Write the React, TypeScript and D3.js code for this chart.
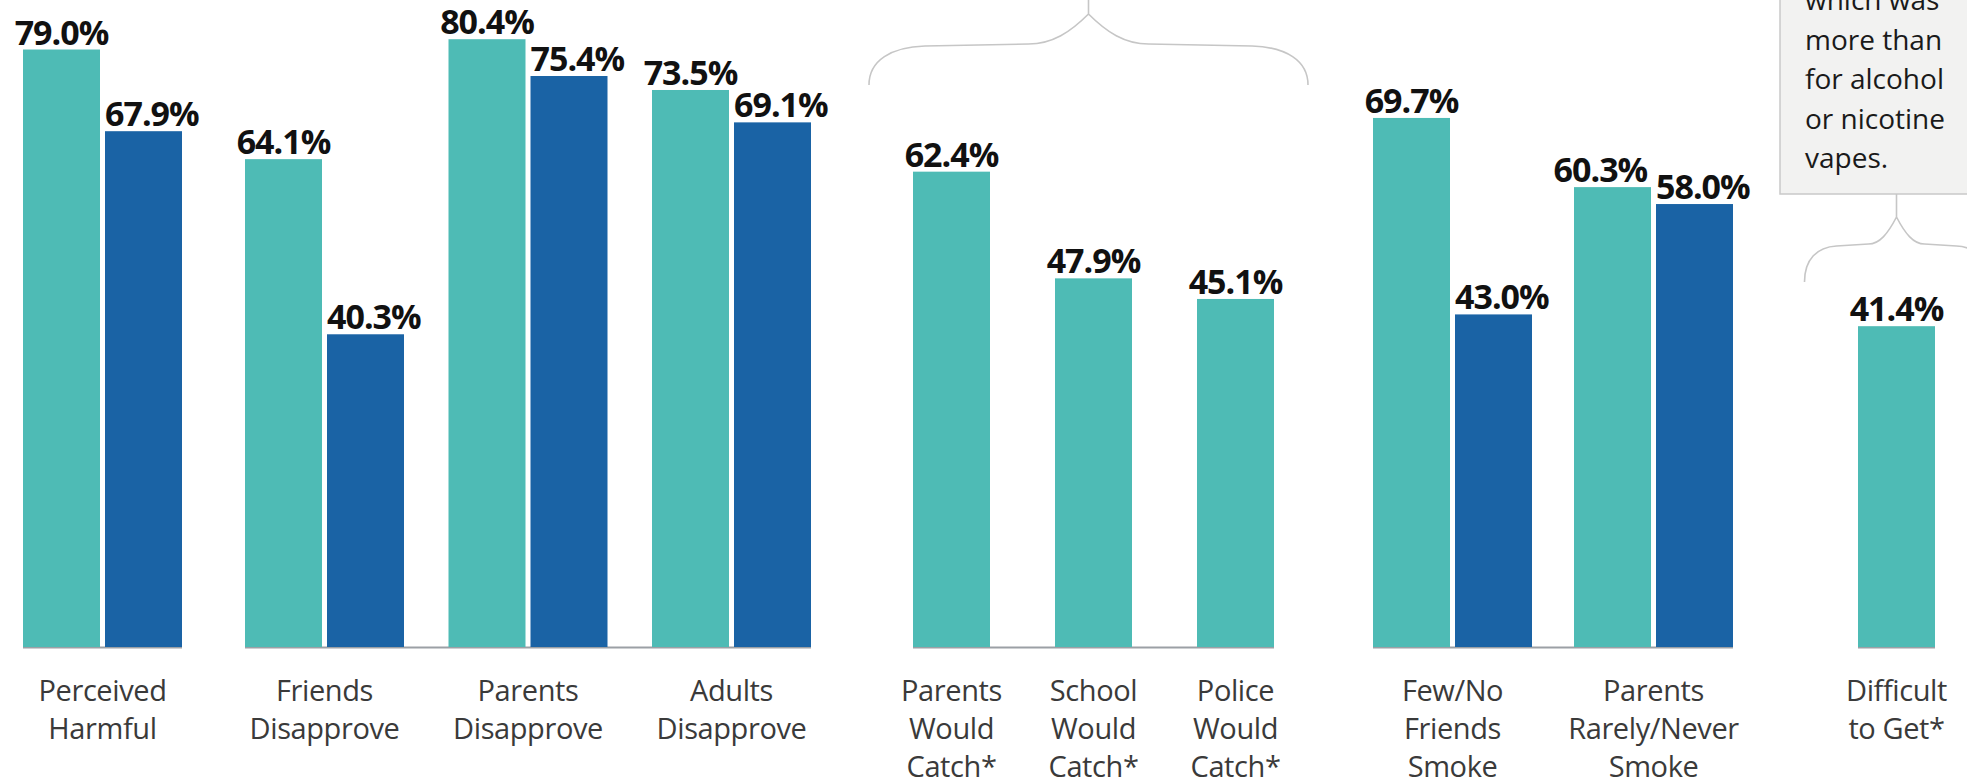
import React from "react";
import * as d3 from "d3";

// ---- data ----
const categories = [
  "Perceived Harmful",
  "Friends Disapprove",
  "Parents Disapprove",
  "Adults Disapprove",
  "Parents Would Catch*",
  "School Would Catch*",
  "Police Would Catch*",
  "Few/No Friends Smoke",
  "Parents Rarely/Never Smoke",
  "Difficult to Get*",
];
const categoryLines = [
  ["Perceived", "Harmful"],
  ["Friends", "Disapprove"],
  ["Parents", "Disapprove"],
  ["Adults", "Disapprove"],
  ["Parents", "Would", "Catch*"],
  ["School", "Would", "Catch*"],
  ["Police", "Would", "Catch*"],
  ["Few/No", "Friends", "Smoke"],
  ["Parents", "Rarely/Never", "Smoke"],
  ["Difficult", "to Get*"],
];
const seriesA: (number | null)[] = [79.0, 64.1, 80.4, 73.5, 62.4, 47.9, 45.1, 69.7, 60.3, 41.4];
const seriesB: (number | null)[] = [67.9, 40.3, 75.4, 69.1, null, null, null, 43.0, 58.0, null];
const sectionOf = [0, 1, 1, 1, 2, 2, 2, 3, 3, 4];
const noteLines = ["which was", "more than", "for alcohol", "or nicotine", "vapes."];

// ---- layout ----
const W = 1967;
const H = 780;
const BASE = 647;
const BAR_W = 77;
const PAIR_GAP = 5;
const sectionRanges: [number, number][] = [
  [23, 182],
  [245, 811],
  [913, 1274],
  [1373, 1733],
  [1858, 1935],
];
const TEAL = "#4EBBB5";
const BLUE = "#1A63A5";
const FONT = "'Open Sans', 'Noto Sans', sans-serif";
const VAL_SIZE = 34;
const VAL_CAP = VAL_SIZE * 0.72;
const VAL_W = VAL_SIZE * 2.8;

const y = d3.scaleLinear().domain([-2.2, 100]).range([BASE, -105]);

function bandFor(members: number[], range: [number, number], w: number) {
  const n = members.length;
  const L = range[1] - range[0];
  let p = 0;
  if (n > 1) {
    const step = (L - w) / (n - 1);
    p = 1 - w / step;
  }
  return d3
    .scaleBand<number>()
    .domain(members)
    .range(range)
    .paddingInner(p)
    .paddingOuter(0);
}

function bracePath(cx: number, stemTop: number, apexY: number, left: number, midY: number, endY: number, a: number, r: number) {
  const p = d3.path();
  p.moveTo(cx, stemTop);
  p.lineTo(cx, apexY);
  const half = (dir: number, edge: number) => {
    p.moveTo(cx, apexY);
    p.bezierCurveTo(cx + dir * a * 0.3, apexY + (midY - apexY) * 0.6, cx + dir * a * 0.6, midY, cx + dir * a, midY);
    p.lineTo(edge - dir * r, midY + 2);
    p.bezierCurveTo(edge - dir * r * 0.4, midY + 3, edge, midY + (endY - midY) * 0.4, edge, endY);
  };
  half(-1, left);
  half(1, 2 * cx - left);
  return p.toString();
}

type Bar = { x: number; w: number; v: number; color: string; key: string; lx: number; anchor: string };

export default function App() {
  const sections = sectionRanges.map((_, s) => categories.map((_, i) => i).filter((i) => sectionOf[i] === s));
  const groupX: number[] = [];
  const groupW: number[] = [];
  sections.forEach((members, s) => {
    const paired = members.some((i) => seriesB[i] != null);
    const w = paired ? BAR_W * 2 + PAIR_GAP : BAR_W;
    const band = bandFor(members, sectionRanges[s], w);
    members.forEach((i) => {
      groupX[i] = band(i) as number;
      groupW[i] = band.bandwidth();
    });
  });
  const inner = (i: number) =>
    d3.scaleBand<string>().domain(["a", "b"]).range([0, groupW[i]]).paddingInner(PAIR_GAP / (groupW[i] / 2 + PAIR_GAP / 2));

  const bars: Bar[] = [];
  categories.forEach((c, i) => {
    const a = seriesA[i] as number;
    if (seriesB[i] != null) {
      const b = seriesB[i] as number;
      const sc = inner(i);
      const ax = groupX[i] + (sc("a") as number);
      const bx = groupX[i] + (sc("b") as number);
      const w = sc.bandwidth();
      // teal label centred, nudged left if it would collide with the blue label
      let lx = ax + w / 2;
      const overlapV = Math.abs(y(b) - y(a)) < VAL_CAP + 2;
      if (overlapV && lx + VAL_W / 2 > bx - 4) lx = bx - 8 - VAL_W / 2;
      bars.push({ x: ax, w, v: a, color: TEAL, key: c + "a", lx, anchor: "middle" });
      bars.push({ x: bx, w, v: b, color: BLUE, key: c + "b", lx: bx, anchor: "start" });
    } else {
      bars.push({ x: groupX[i], w: groupW[i], v: a, color: TEAL, key: c + "a", lx: groupX[i] + groupW[i] / 2, anchor: "middle" });
    }
  });

  const catC = sectionRanges[2];
  const bigCx = (catC[0] + catC[1]) / 2 - 5;
  const lastCx = groupX[9] + groupW[9] / 2;

  return (
    <div style={{ position: "absolute", left: 0, top: 0 }}>
      <svg width={W} height={H} style={{ display: "block", background: "#fff" }}>
        {/* axis segments */}
        {sectionRanges.map((r, s) => (
          <line key={s} x1={r[0]} x2={r[1]} y1={BASE + 0.5} y2={BASE + 0.5} stroke="#9ba0a5" strokeWidth={2} />
        ))}
        {bars.map((b) => (
          <g key={b.key}>
            <rect x={b.x} y={y(b.v)} width={b.w} height={BASE - y(b.v)} fill={b.color} />
            <text
              x={b.lx}
              y={y(b.v) - 5}
              textAnchor={b.anchor}
              fontFamily={FONT}
              fontWeight={700}
              fontSize={VAL_SIZE}
              fill="#111"
              letterSpacing={-1}
            >
              {d3.format(".1f")(b.v) + "%"}
            </text>
          </g>
        ))}
        {categories.map((c, i) => (
          <text key={c} x={groupX[i] + groupW[i] / 2} textAnchor="middle" fontFamily={FONT} fontSize={29} fill="#3a3a3a" letterSpacing={-0.4}>
            {categoryLines[i].map((ln, k) => (
              <tspan key={k} x={groupX[i] + groupW[i] / 2} y={701 + k * 38}>
                {ln}
              </tspan>
            ))}
          </text>
        ))}
        {/* big brace over "would catch" group */}
        <path d={bracePath(bigCx, -2, 14, catC[0] - 44, 44, 85, 60, 56)} fill="none" stroke="#c6c6c6" strokeWidth={1.6} />
        {/* note box */}
        <rect x={1780} y={-40} width={240} height={234} fill="#f2f2f1" stroke="#c9c9c9" strokeWidth={1.5} />
        <text fontFamily={FONT} fontSize={28} fill="#1a1a1a">
          {noteLines.map((ln, k) => (
            <tspan key={k} x={1805} y={10 + k * 39.5}>
              {ln}
            </tspan>
          ))}
        </text>
        <path d={bracePath(lastCx, 194, 217, lastCx - 92, 244, 282, 28, 32)} fill="none" stroke="#c6c6c6" strokeWidth={1.6} />
      </svg>
    </div>
  );
}
